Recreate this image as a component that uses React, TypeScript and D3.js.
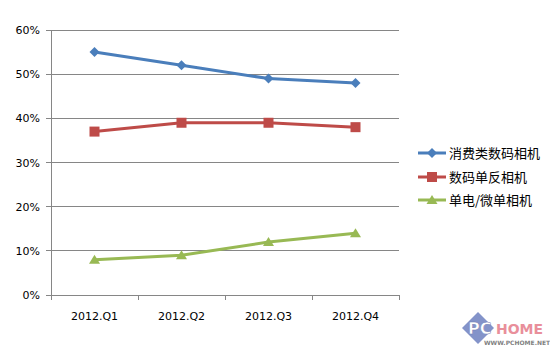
import React from "react";
import * as d3 from "d3";

const categories = ["2012.Q1", "2012.Q2", "2012.Q3", "2012.Q4"];
const seriesNames = ["消费类数码相机", "数码单反相机", "单电/微单相机"];
const consumer = [55, 52, 49, 48];
const dslr = [37, 39, 39, 38];
const mirrorless = [8, 9, 12, 14];
const yTicks = [0, 10, 20, 30, 40, 50, 60];
const colors = ["#4A7EBB", "#BE4B48", "#98B954"];

export default function App() {
  const W = 550, H = 356;
  const left = 51, right = 399, top = 30, bottom = 295;
  const x = d3.scaleBand().domain(categories).range([left, right]);
  const y = d3.scaleLinear().domain([0, 60]).range([bottom, top]);
  const series = [consumer, dslr, mirrorless];
  const line = d3.line<number>()
    .x((_, i) => (x(categories[i]) as number) + x.bandwidth() / 2)
    .y((d) => y(d));
  const latin = "Tahoma, 'DejaVu Sans', sans-serif";
  const cjk = "'Noto Sans CJK SC', sans-serif";

  const marker = (k: number, cx: number, cy: number, key: string) => {
    if (k === 0) {
      const r = 5;
      return <path key={key} d={`M${cx},${cy - r}L${cx + r},${cy}L${cx},${cy + r}L${cx - r},${cy}Z`} fill={colors[0]} />;
    }
    if (k === 1) {
      return <rect key={key} x={cx - 5} y={cy - 5} width={10} height={10} fill={colors[1]} />;
    }
    return <path key={key} d={`M${cx},${cy - 5}L${cx + 5.5},${cy + 4}L${cx - 5.5},${cy + 4}Z`} fill={colors[2]} />;
  };

  const legendY = [153, 177, 200];

  return (
    <svg width={W} height={H} style={{ position: "absolute", left: 0, top: 0, background: "#fff" }}>
      <rect width={W} height={H} fill="#fff" />
      {yTicks.map((t) => (
        <g key={t}>
          <line x1={left - 5} x2={right} y1={y(t)} y2={y(t)} stroke="#868686" strokeWidth={1} shapeRendering="crispEdges" />
          <text x={40} y={y(t) + 4} textAnchor="end" fontFamily={latin} fontSize={11} fill="#000">{t}%</text>
        </g>
      ))}
      <line x1={left} x2={left} y1={top} y2={bottom} stroke="#868686" shapeRendering="crispEdges" />
      {[...categories.map((c) => x(c) as number), right].map((v, i) => (
        <line key={i} x1={v} x2={v} y1={bottom} y2={bottom + 5} stroke="#868686" shapeRendering="crispEdges" />
      ))}
      {categories.map((c) => (
        <text key={c} x={(x(c) as number) + x.bandwidth() / 2} y={320} textAnchor="middle" fontFamily={latin} fontSize={11} fill="#000">{c}</text>
      ))}
      {series.map((s, k) => (
        <g key={k}>
          <path d={line(s) || ""} fill="none" stroke={colors[k]} strokeWidth={3} strokeLinejoin="round" />
          {s.map((v, i) => marker(k, (x(categories[i]) as number) + x.bandwidth() / 2, y(v), `${k}-${i}`))}
        </g>
      ))}
      {seriesNames.map((n, k) => (
        <g key={n}>
          <line x1={418} x2={446} y1={legendY[k]} y2={legendY[k]} stroke={colors[k]} strokeWidth={3} />
          {marker(k, 432, legendY[k], `lg${k}`)}
          <text x={449} y={legendY[k] + 5} fontFamily={cjk} fontSize={13} fill="#000">{n}</text>
        </g>
      ))}
      <g opacity={0.75}>
        <path d="M478,312L494,328L478,344L462,328Z" fill="#5a6fb8" />
        <text x={468} y={334} fontFamily="'DejaVu Sans', sans-serif" fontWeight="bold" fontSize={16} fill="#fff" stroke="#3a4f98" strokeWidth={0.5}>PC</text>
        <text x={496} y={334} fontFamily="'DejaVu Sans', sans-serif" fontWeight="bold" fontSize={14} fill="#e26a7a">HOME</text>
        <text x={484} y={345} fontFamily="'DejaVu Sans', sans-serif" fontWeight="bold" fontSize={6} fill="#555">WWW.PCHOME.NET</text>
      </g>
    </svg>
  );
}
